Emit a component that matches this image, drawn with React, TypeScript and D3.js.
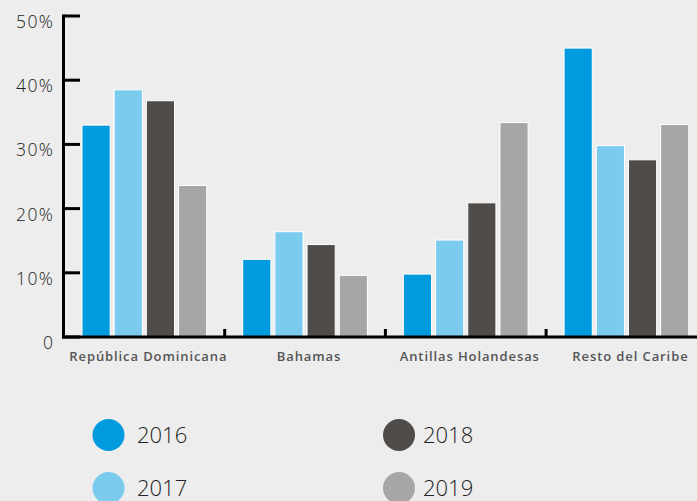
import React from "react";
import * as d3 from "d3";

const categories = ["República Dominicana", "Bahamas", "Antillas Holandesas", "Resto del Caribe"];
const years = ["2016", "2017", "2018", "2019"];
const values2016 = [33, 12.1, 9.8, 45];
const values2017 = [38.5, 16.4, 15.1, 29.8];
const values2018 = [36.8, 14.4, 20.9, 27.6];
const values2019 = [23.6, 9.6, 33.4, 33.1];
const yTicks = [0, 10, 20, 30, 40, 50];
const colors = ["#009ADE", "#7ACBEE", "#504C49", "#A7A6A4"];

const series = [values2016, values2017, values2018, values2019];

export default function App() {
  const W = 697, H = 501;
  const x0 = 64, baseY = 337, topY = 16;
  const y = d3.scaleLinear().domain([0, 50]).range([baseY, topY]);
  const xBand = d3.scaleBand<string>().domain(categories).range([x0, x0 + 160.7 * 4]).paddingInner(0).paddingOuter(0);
  const xInner = d3.scaleBand<string>().domain(years).range([18, 160.7 - 18]).paddingInner(0.125).paddingOuter(0);
  const font = "'Open Sans', 'Noto Sans', sans-serif";

  return (
    <svg width={W} height={H} style={{ position: "absolute", left: 0, top: 0, background: "#EDEDED" }}>
      <rect x={0} y={0} width={W} height={H} fill="#EDEDED" />
      {categories.map((c, ci) => (
        <g key={c} transform={`translate(${xBand(c)},0)`}>
          {years.map((yr, si) => {
            const v = series[si][ci];
            return (
              <rect
                key={yr}
                x={xInner(yr)}
                y={y(v)}
                width={xInner.bandwidth()}
                height={baseY - y(v)}
                fill={colors[si]}
                stroke="#ffffff"
                strokeWidth={1}
              />
            );
          })}
        </g>
      ))}
      {/* y axis */}
      <line x1={63.5} x2={63.5} y1={topY - 1.5} y2={baseY + 1.5} stroke="#000" strokeWidth={3} />
      {yTicks.map((t) => (
        <g key={t}>
          <line x1={63.5} x2={80} y1={y(t)} y2={y(t)} stroke="#000" strokeWidth={3} />
          <text x={54.5} y={y(t) + 12} textAnchor="end" fontFamily={font} fontWeight={300} fontSize={17.5} letterSpacing={1.5} fill="#222">
            {t === 0 ? "0" : `${t}%`}
          </text>
        </g>
      ))}
      {/* baseline */}
      <line x1={62} x2={W} y1={baseY} y2={baseY} stroke="#000" strokeWidth={3} />
      {categories.slice(1).map((c) => (
        <line key={c} x1={xBand(c)} x2={xBand(c)} y1={baseY} y2={baseY - 8} stroke="#000" strokeWidth={3} />
      ))}
      {categories.map((c) => (
        <text
          key={c}
          x={(xBand(c) as number) + xBand.bandwidth() / 2 + 4}
          y={361}
          textAnchor="middle"
          fontFamily={font}
          fontWeight={600}
          fontSize={13}
          letterSpacing={0.9}
          fill="#555"
        >
          {c}
        </text>
      ))}
      {/* legend */}
      {years.map((yr, i) => {
        const col = i < 2 ? 0 : 1;
        const row = i % 2;
        const cx = col === 0 ? 108.5 : 399;
        const cy = row === 0 ? 435 : 488;
        return (
          <g key={yr}>
            <circle cx={cx} cy={cy} r={16} fill={colors[i]} />
            <text x={cx + (col === 0 ? 28.5 : 24)} y={cy + 8} fontFamily={font} fontWeight={300} fontSize={22} fill="#222">
              {yr}
            </text>
          </g>
        );
      })}
    </svg>
  );
}
